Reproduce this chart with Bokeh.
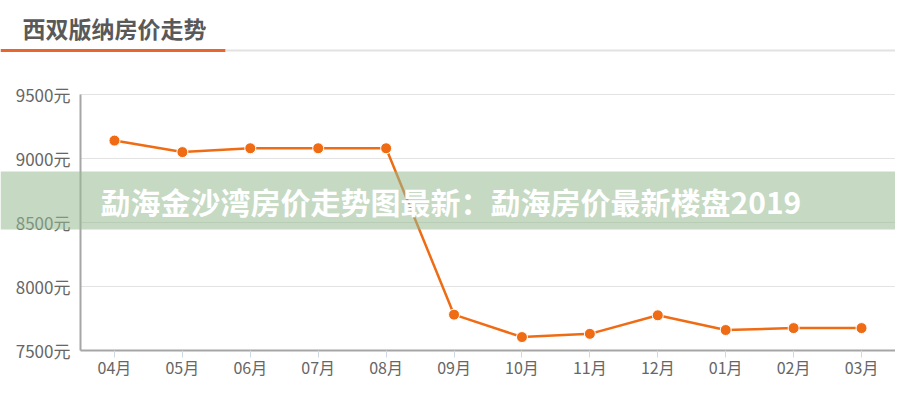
import numpy as np
from bokeh.plotting import figure
from bokeh.models import (FixedTicker, PrintfTickFormatter, CustomJSTickFormatter,
                          Label, BoxAnnotation, ColumnDataSource, Range1d)
from bokeh.embed import file_html
from bokeh.resources import INLINE

# data
months = ["04月", "05月", "06月", "07月", "08月", "09月",
          "10月", "11月", "12月", "01月", "02月", "03月"]
prices = [9140, 9050, 9080, 9080, 9080, 7780,
          7605, 7630, 7775, 7660, 7675, 7675]
y_ticks = [7500, 8000, 8500, 9000, 9500]
title_text = "西双版纳房价走势"
banner_text = "勐海金沙湾房价走势图最新：勐海房价最新楼盘2019"

W, H = 895, 384
# plot area in canvas pixels
PL, PR, PT, PB = 80, 895, 94, 350
ymin, ymax = y_ticks[0], y_ticks[-1]

cw = (PR - PL) / len(months)          # px per category
ky = (ymax - ymin) / (PB - PT)        # value per px
xi = np.arange(len(months))

src = ColumnDataSource(data=dict(x=xi, p=prices))

# the frame fills the whole canvas, axes sit at fixed locations inside it,
# so the header and banner can be drawn anywhere
p = figure(width=W, height=H,
           x_range=Range1d(-0.5 - PL / cw, -0.5 + (W - PL) / cw),
           y_range=Range1d(ymin - (H - PB) * ky, ymax + PT * ky),
           output_backend="svg", toolbar_location=None, tools="",
           min_border=0)
p.outline_line_color = None
p.background_fill_color = "white"

# axes
p.xaxis.fixed_location = ymin
p.xaxis.bounds = (-0.5, len(months) - 0.5)
p.xaxis.ticker = FixedTicker(ticks=list(xi))
p.xaxis.formatter = CustomJSTickFormatter(args=dict(labels=months),
                                          code="return labels[Math.round(tick)] || ''")
p.yaxis.fixed_location = -0.5
p.yaxis.bounds = (ymin, ymax)
p.yaxis.ticker = FixedTicker(ticks=y_ticks)
p.yaxis.formatter = PrintfTickFormatter(format="%d元")

for ax in (p.xaxis, p.yaxis):
    ax.axis_line_color = "#a6a6a6"
    ax.axis_line_width = 2
    ax.major_label_text_color = "#666666"
    ax.major_label_text_font = "Noto Sans CJK SC"
    ax.minor_tick_line_color = None
p.xaxis.major_label_text_font_size = "16px"
p.yaxis.major_label_text_font_size = "17px"
p.yaxis.major_tick_line_color = None
p.yaxis.major_tick_out = 0
p.yaxis.major_label_standoff = 10
p.xaxis.major_tick_line_color = "#cfd9e6"
p.xaxis.major_tick_out = 7
p.xaxis.major_tick_in = 0
p.xaxis.major_label_standoff = -3

# grid
p.xgrid.grid_line_color = None
p.ygrid.ticker = FixedTicker(ticks=y_ticks)
p.ygrid.grid_line_color = "#e3e3e3"
p.ygrid.grid_line_width = 1
p.ygrid.cross_bounds = (-0.5, len(months) - 0.5)

# series
p.line(x="x", y="p", source=src, line_color="#f06c14", line_width=2.5)
p.scatter(x="x", y="p", source=src, size=11, fill_color="#f06c14",
          line_color="white", line_width=1)


def box(left, right, top, bottom, color, alpha=1.0):
    # canvas pixels measured from the top-left
    return BoxAnnotation(left=left, right=right, top=H - top, bottom=H - bottom,
                         left_units="screen", right_units="screen",
                         top_units="screen", bottom_units="screen",
                         fill_color=color, fill_alpha=alpha, line_color=None,
                         level="overlay")


# header
p.add_layout(Label(x=22, y=H - 27.5, x_units="screen", y_units="screen",
                   text=title_text, text_font="Noto Sans CJK SC",
                   text_font_style="bold", text_font_size="23px",
                   text_color="#595959", text_baseline="middle"))
p.add_layout(box(0, 225, 48.5, 51.5, "#e8652e"))
p.add_layout(box(225, W, 49, 51, "#e2e2e2"))

# translucent banner across the chart
p.add_layout(box(0, W, 171, 229, "#96b991", 0.55))
p.add_layout(Label(x=100, y=H - 200, x_units="screen", y_units="screen",
                   text=banner_text, text_font="Noto Sans CJK SC",
                   text_font_style="bold", text_font_size="30px",
                   text_color="white", text_baseline="middle", level="overlay"))

open("out.html", "w").write(file_html(p, INLINE))
